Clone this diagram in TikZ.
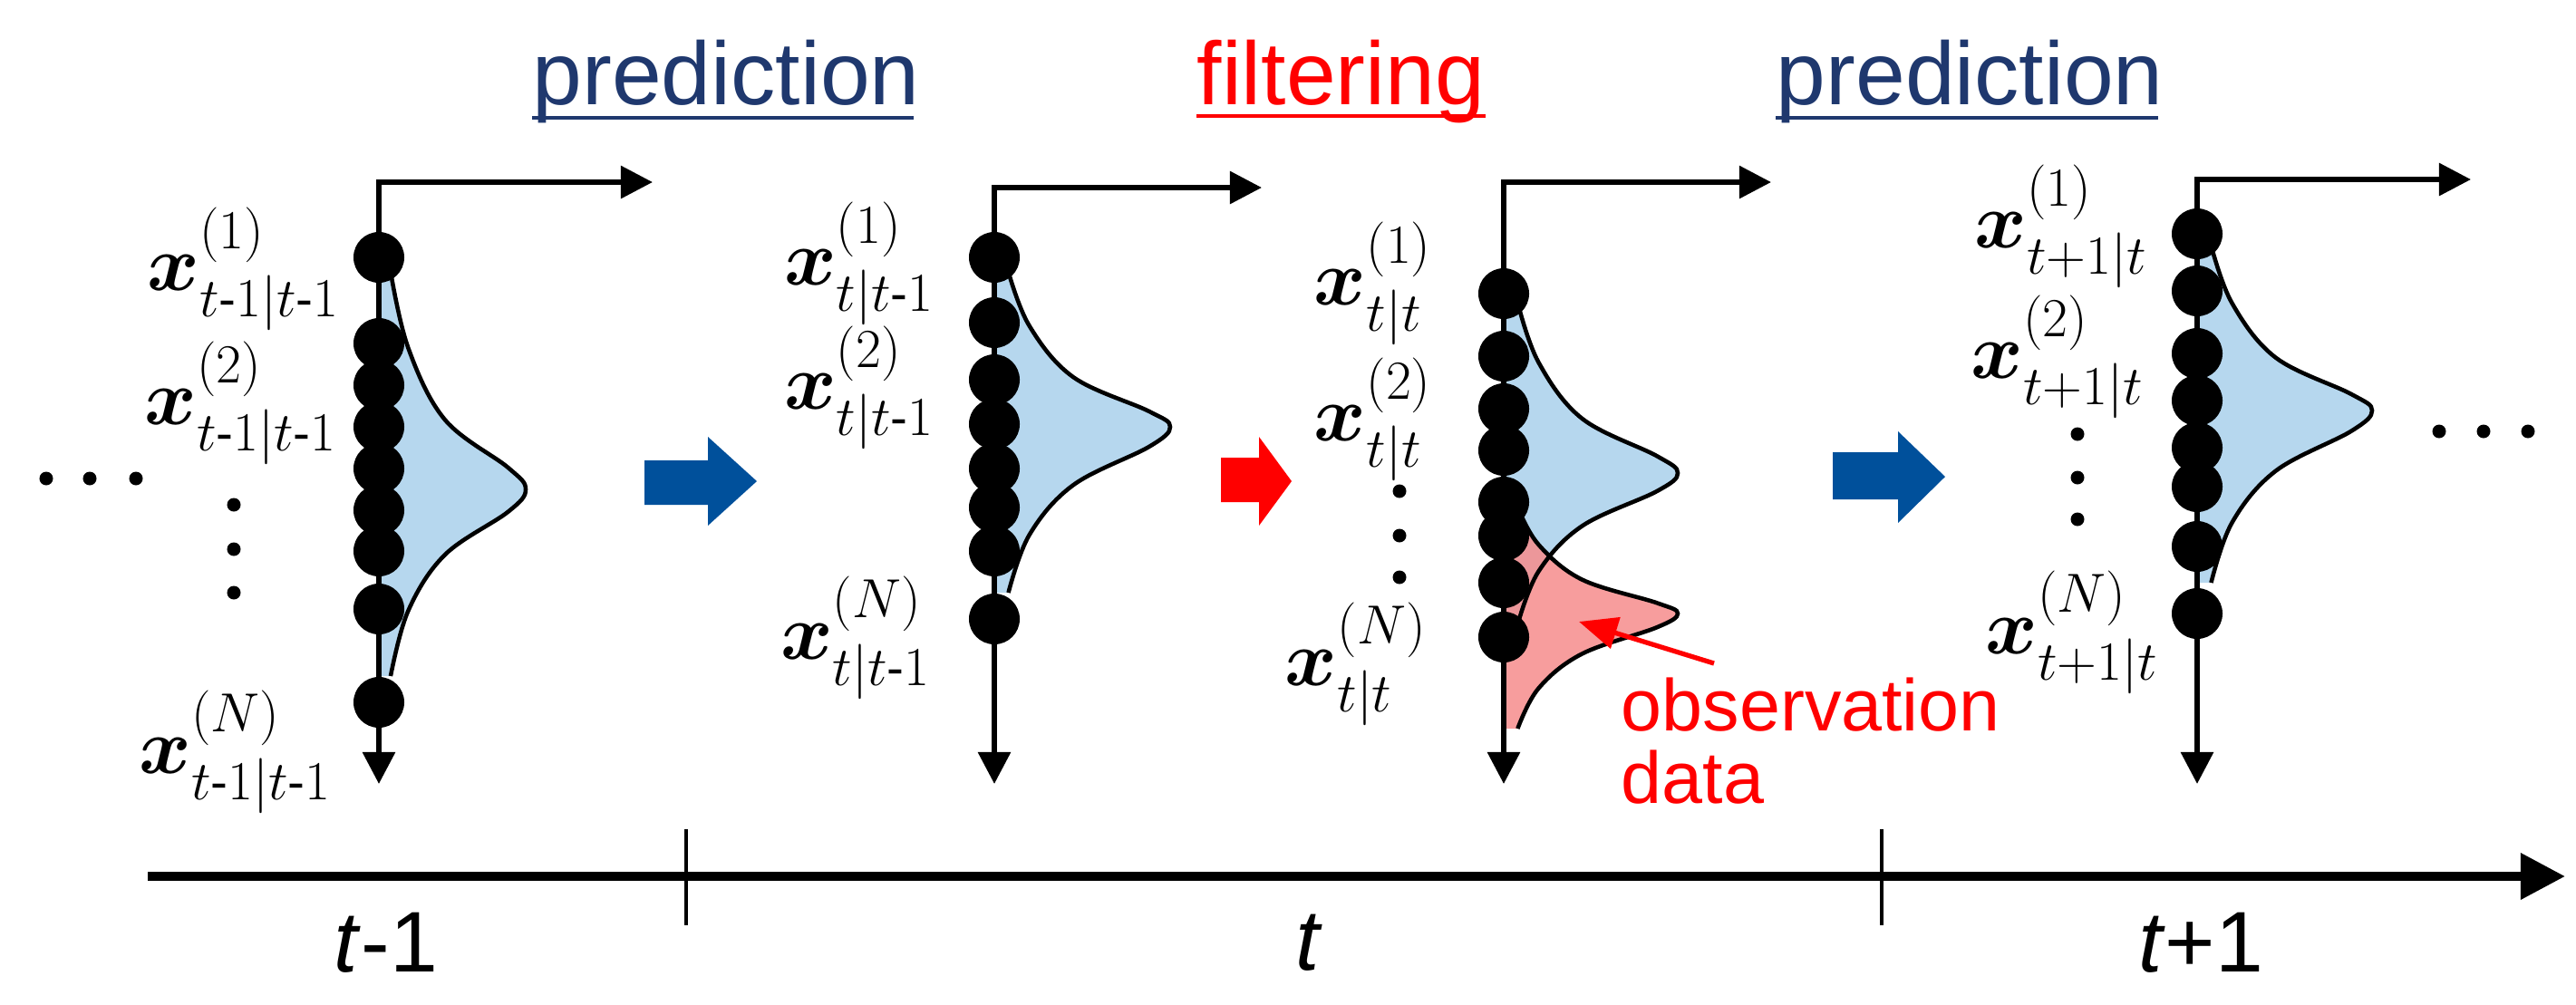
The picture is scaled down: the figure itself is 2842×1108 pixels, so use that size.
\documentclass[tikz,border=0pt]{standalone}
\usepackage{amsmath,bm}
\usepackage{fontspec}
\setmainfont{Liberation Sans}
\usetikzlibrary{arrows.meta}
\definecolor{hblue}{RGB}{31,56,110}
\definecolor{ablue}{RGB}{0,80,155}
\definecolor{lblue}{RGB}{182,215,238}
\definecolor{lred}{RGB}{246,140,140}
\definecolor{hred}{RGB}{255,0,0}
% #1 axis x, #2 start y, #3 peak y, #4 end y, #5 peak x
\newcommand\pdfcalc[5]{%
  \pgfmathsetmacro\xa{#1+0.08*(#5-#1)}%
  \pgfmathsetmacro\xb{#1+0.2*(#5-#1)}%
  \pgfmathsetmacro\xc{#1+0.45*(#5-#1)}%
  \pgfmathsetmacro\xd{#1+0.88*(#5-#1)}%
  \pgfmathsetmacro\ya{#2+0.35*(#3-#2)}%
  \pgfmathsetmacro\yb{#2+0.68*(#3-#2)}%
  \pgfmathsetmacro\yc{#2+0.9*(#3-#2)}%
  \pgfmathsetmacro\yd{#3+0.12*(#4-#3)}%
  \pgfmathsetmacro\ye{#3+0.35*(#4-#3)}%
  \pgfmathsetmacro\yf{#3+0.65*(#4-#3)}%
}
\newcommand\pdfdraw[6]{%
  \pdfcalc{#1}{#2}{#3}{#4}{#5}%
  \fill[#6] (#1,#2) -- (\xa,#2) -- plot[smooth,tension=0.6] coordinates {(\xa,#2) (\xb,\ya) (\xc,\yb) (\xd,\yc) (#5,#3) (\xd,\yd) (\xc,\ye) (\xb,\yf) (\xa,#4)} -- (#1,#4) -- cycle;
}
\newcommand\pdfline[5]{%
  \pdfcalc{#1}{#2}{#3}{#4}{#5}%
  \draw[line width=1.3pt] plot[smooth,tension=0.6] coordinates {(\xa,#2) (\xb,\ya) (\xc,\yb) (\xd,\yc) (#5,#3) (\xd,\yd) (\xc,\ye) (\xb,\yf) (\xa,#4)};
}
\tikzset{
  ax/.style={line width=1.7pt,{Triangle[length=10pt,width=10pt]}-{Triangle[length=10pt,width=10pt]}},
  dot/.style={circle,fill=black,minimum size=0.56cm,inner sep=0pt},
  lab/.style={anchor=base east,inner sep=0pt,font=\fontsize{23}{27}\selectfont},
  head/.style={anchor=base west,inner sep=0pt,font=\fontsize{28}{32}\selectfont},
  obs/.style={anchor=base west,inner sep=0pt,text=hred,font=\fontsize{23}{18}\selectfont},
  sdot/.style={circle,fill=black,minimum size=0.15cm,inner sep=0pt},
}
\begin{document}
\begin{tikzpicture}[x=0.01cm,y=-0.01cm]
\useasboundingbox (0,0) rectangle (2842,1108);
% headers
\node[head,text=hblue] (h1) at (587,115) {prediction};
\draw[hblue,line width=1.2pt] (587,130) -- (1008,130);
\node[head,text=hred] (h2) at (1320,115) {filtering};
\draw[hred,line width=1.2pt] (1320,128) -- (1639,128);
\node[head,text=hblue] (h3) at (1959,115) {prediction};
\draw[hblue,line width=1.2pt] (1959,130) -- (2381,130);
% distributions
\pdfdraw{418}{300}{540}{746}{580}{lblue}
\pdfdraw{1097}{300}{471}{654}{1291}{lblue}
\pdfdraw{1659}{334}{522}{689}{1851}{lblue}
\pdfdraw{1659}{560}{677}{804}{1851}{lred,opacity=0.85}
\pdfdraw{2424}{271}{453}{643}{2617}{lblue}
\pdfline{418}{300}{540}{746}{580}
\pdfline{1097}{300}{471}{654}{1291}
\pdfline{1659}{334}{522}{689}{1851}
\pdfline{1659}{560}{677}{804}{1851}
\pdfline{2424}{271}{453}{643}{2617}
% axes
\coordinate (c1a) at (720,201); \coordinate (c1) at (418,201); \coordinate (c1b) at (418,865);
\coordinate (c2a) at (1392,207); \coordinate (c2) at (1097,207); \coordinate (c2b) at (1097,865);
\coordinate (c3a) at (1954,201); \coordinate (c3) at (1659,201); \coordinate (c3b) at (1659,865);
\coordinate (c4a) at (2726,198); \coordinate (c4) at (2424,198); \coordinate (c4b) at (2424,865);
\foreach \i in {1,2,3,4} \draw[ax] (c\i a) -- (c\i) -- (c\i b);
% particles
\foreach \y [count=\k] in {284,379,425,471,517,563,608,672,775} \node[dot] (p1-\k) at (418,\y) {};
\foreach \y [count=\k] in {284,356,419,468,517,560,608,683} \node[dot] (p2-\k) at (1097,\y) {};
\foreach \y [count=\k] in {324,393,451,497,554,591,643,703} \node[dot] (p3-\k) at (1659,\y) {};
\foreach \y [count=\k] in {258,321,390,442,494,537,603,677} \node[dot] (p4-\k) at (2424,\y) {};
% labels
\node[lab] (l11) at (376,320) {$\bm{x}^{(1)}_{t\text{-}1|t\text{-}1}$};
\node[lab] (l12) at (373,468) {$\bm{x}^{(2)}_{t\text{-}1|t\text{-}1}$};
\node[lab] (l1n) at (367,853) {$\bm{x}^{(N)}_{t\text{-}1|t\text{-}1}$};
\node[lab] (l21) at (1032,314) {$\bm{x}^{(1)}_{t|t\text{-}1}$};
\node[lab] (l22) at (1032,451) {$\bm{x}^{(2)}_{t|t\text{-}1}$};
\node[lab] (l2n) at (1028,727) {$\bm{x}^{(N)}_{t|t\text{-}1}$};
\node[lab] (l31) at (1581,336) {$\bm{x}^{(1)}_{t|t}$};
\node[lab] (l32) at (1581,486) {$\bm{x}^{(2)}_{t|t}$};
\node[lab] (l3n) at (1575,756) {$\bm{x}^{(N)}_{t|t}$};
\node[lab] (l41) at (2370,273) {$\bm{x}^{(1)}_{t+1|t}$};
\node[lab] (l42) at (2366,417) {$\bm{x}^{(2)}_{t+1|t}$};
\node[lab] (l4n) at (2382,721) {$\bm{x}^{(N)}_{t+1|t}$};
% small dots
\foreach \x in {51,99,150} \node[sdot] at (\x,528) {};
\foreach \y in {557,606,654} \node[sdot] at (258,\y) {};
\foreach \y in {542,591,637} \node[sdot] at (1544,\y) {};
\foreach \y in {479,527,573} \node[sdot] at (2292,\y) {};
\foreach \x in {2691,2740,2789} \node[sdot] at (\x,476) {};
% fat arrows
\fill[ablue] (711,508) -- (781,508) -- (781,482) -- (835,531) -- (781,580) -- (781,557) -- (711,557) -- cycle;
\fill[hred] (1347,505) -- (1389,505) -- (1389,482) -- (1425,531) -- (1389,580) -- (1389,554) -- (1347,554) -- cycle;
\fill[ablue] (2022,499) -- (2094,499) -- (2094,476) -- (2146,526) -- (2094,577) -- (2094,551) -- (2022,551) -- cycle;
% observation
\node[obs] (obs) at (1788,806) {observation};
\node[obs] (dat) at (1788,886) {data};
\coordinate (obsT) at (1891,732);
\coordinate (obsH) at (1742,686);
\draw[hred,line width=1.5pt,-{Triangle[length=12pt,width=10pt]}] (obsT) -- (obsH);
% timeline
\coordinate (tl0) at (163,967); \coordinate (tl1) at (2830,967);
\draw[line width=2.8pt,-{Triangle[length=14pt,width=14pt]}] (tl0) -- (tl1);
\draw[line width=0.9pt] (757,915) -- (757,1021);
\draw[line width=0.9pt] (2076,915) -- (2076,1021);
\node[font=\fontsize{27}{30}\selectfont] (t0) at (426,1040) {\textit{t}-1};
\node[font=\fontsize{27}{30}\selectfont] (t1) at (1444,1040) {\textit{t}};
\node[font=\fontsize{27}{30}\selectfont] (t2) at (2428,1040) {\textit{t}+1};
\end{tikzpicture}
\end{document}
